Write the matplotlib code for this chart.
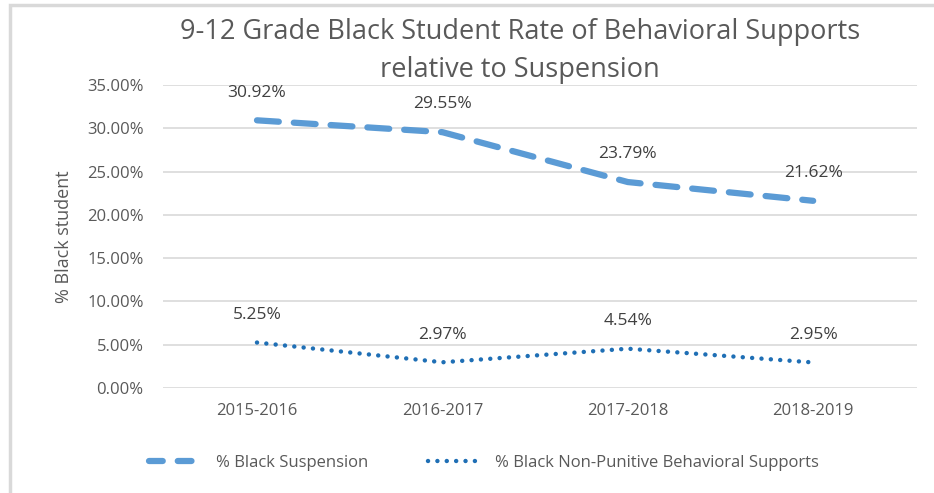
import matplotlib
matplotlib.use("Agg")
import matplotlib.pyplot as plt
from matplotlib.lines import Line2D
from matplotlib.patches import Rectangle

# data
years = ["2015-2016", "2016-2017", "2017-2018", "2018-2019"]
suspension = [30.92, 29.55, 23.79, 21.62]
supports = [5.25, 2.97, 4.54, 2.95]

text_col = "#595959"
plt.rcParams['font.family'] = ['Open Sans', 'DejaVu Sans']

fig = plt.figure(figsize=(9.34, 4.93), dpi=100)
ax = fig.add_axes([0.1745, 0.213, 0.8073, 0.6146])

# outer border of the pasted chart (left and top edges visible)
fig.patches.append(Rectangle((10 / 934, -0.1), 2, 1.1 - 5 / 493, transform=fig.transFigure,
                             fill=False, edgecolor="#d9d9d9", linewidth=2.5))

x = list(range(len(years)))
ax.plot(x, suspension, color="#5b9bd5", linewidth=4.5, linestyle=(0, (3.5, 2.4)),
        solid_capstyle="round", dash_capstyle="round")
ax.plot(x, supports, color="#1f6fb5", linewidth=3.2, linestyle=(0, (0.01, 2.1)),
        dash_capstyle="round")

for xi, v in zip(x, suspension):
    ax.annotate(f"{v:.2f}%", (xi, v), xytext=(0, 20), textcoords="offset points",
                ha="center", va="center", fontsize=12.5, color="#404040")
for xi, v in zip(x, supports):
    ax.annotate(f"{v:.2f}%", (xi, v), xytext=(0, 20), textcoords="offset points",
                ha="center", va="center", fontsize=12.5, color="#404040")

ax.set_xlim(-0.507, 3.56)
ax.set_ylim(0, 35)
ax.set_yticks(range(0, 36, 5))
ax.set_yticklabels([f"{t:.2f}%" for t in range(0, 36, 5)])
ax.set_xticks(x)
ax.set_xticklabels(years)
ax.tick_params(axis="both", length=0, labelsize=12, labelcolor=text_col)
ax.tick_params(axis="y", pad=14)
ax.tick_params(axis="x", pad=11)
ax.grid(axis="y", color="#d9d9d9", linewidth=1.2)
ax.set_axisbelow(True)
for s in ax.spines.values():
    s.set_visible(False)

ax.set_ylabel("% Black student", fontsize=13, color=text_col, labelpad=10)

fig.text(0.557, 0.935, "9-12 Grade Black Student Rate of Behavioral Supports",
         ha="center", va="center", fontsize=19.5, color=text_col)
fig.text(0.557, 0.858, "relative to Suspension",
         ha="center", va="center", fontsize=19.5, color=text_col)

handles = [
    Line2D([], [], color="#5b9bd5", linewidth=4.5, linestyle=(0, (2.2, 2.4)),
           dash_capstyle="round"),
    Line2D([], [], color="#1f6fb5", linewidth=3.2, linestyle=(0, (0.01, 2.1)),
           dash_capstyle="round"),
]
fig.legend(handles, ["% Black Suspension", "% Black Non-Punitive Behavioral Supports"],
           loc="center", bbox_to_anchor=(0.518, 0.061), ncol=2, frameon=False,
           fontsize=12, labelcolor=text_col, handlelength=3.3, columnspacing=3.6,
           handletextpad=0.7)

fig.savefig("out.png", dpi=100)
